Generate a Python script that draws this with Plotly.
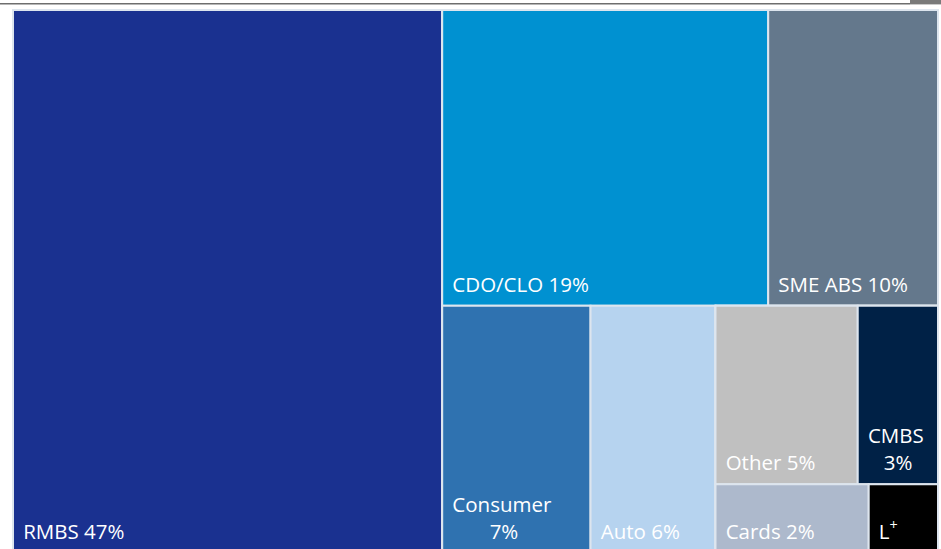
import plotly.graph_objects as go

# Leaf data (tile areas; labels as printed)
sectors = ["RMBS", "CDO/CLO", "SME ABS", "Consumer", "Auto", "Other", "CMBS", "Cards", "L+"]
tile_values = [46.4, 19.2, 10.0, 7.3, 6.15, 5.05, 2.85, 2.1, 0.95]
name_lines = [["RMBS 47%"], ["CDO/CLO 19%"], ["SME ABS 10%"], ["Consumer", "7%"], ["Auto 6%"],
              ["Other 5%"], ["CMBS", "3%"], ["Cards 2%"], ["L<sup>+</sup>"]]
second_line_indent = [0, 0, 0, 7, 0, 0, 3, 0, 0]
colors = ["#1A3190", "#0091D1", "#64788C", "#2F72B0", "#B6D3EF",
          "#C0C0C0", "#002146", "#ADB9CC", "#000000"]

# Layout grouping (mirrors the reference tiling)
parent_of = {
    "All": "",
    "RMBS": "All", "Right": "All",
    "Top": "Right", "Bottom": "Right",
    "CDO/CLO": "Top", "SME ABS": "Top",
    "Consumer": "Bottom", "Auto": "Bottom", "Small": "Bottom",
    "Row1": "Small", "Row2": "Small",
    "Other": "Row1", "CMBS": "Row1",
    "Cards": "Row2", "L+": "Row2",
}
order = ["All", "RMBS", "Right", "Top", "CDO/CLO", "SME ABS", "Bottom", "Consumer", "Auto",
         "Small", "Row1", "Other", "CMBS", "Row2", "Cards", "L+"]

leaf_val = dict(zip(sectors, tile_values))

def total(node):
    if node in leaf_val:
        return leaf_val[node]
    return sum(total(c) for c, p in parent_of.items() if p == node)

BIG = 20.5
NB = "\u00a0"

def make_label(i):
    lines = name_lines[i]
    out = []
    for k, ln in enumerate(lines):
        indent = NB * (1 + (second_line_indent[i] if k > 0 else 0))
        out.append(f"{NB}<span style='font-size:{BIG}px'>{indent}{ln}</span>")
    if len(out) > 1:
        joined = out[0] + "<br>" + NB + "<br>" + NB + "<br>" + out[1]
    else:
        joined = out[0]
    return joined + "<br>" + NB

ids, parents, vals, texts, cols = [], [], [], [], []
for n in order:
    ids.append(n)
    parents.append(parent_of[n])
    vals.append(round(total(n), 4))
    if n in leaf_val:
        i = sectors.index(n)
        texts.append(make_label(i))
        cols.append(colors[i])
    else:
        texts.append(NB)
        cols.append("#FFFFFF")

W, H = 941, 553
ML, MR, MT, MB = 13, 3, 10, 0
pw, ph = W - ML - MR, H - MT - MB

def px_x(x):
    return (x - ML) / pw

def px_y(y):
    return 1 + (MT - y) / ph

fig = go.Figure(go.Treemap(
    ids=ids, labels=ids, parents=parents, values=vals,
    branchvalues="total", sort=False,
    text=texts, texttemplate="%{text}",
    textposition="bottom left",
    textfont=dict(family="Open Sans", size=7, color="white"),
    marker=dict(colors=cols, line=dict(width=2, color="#DDE5EE"),
                pad=dict(t=0, l=0, r=0, b=0)),
    tiling=dict(packing="slice-dice", pad=0),
    pathbar=dict(visible=False),
    hoverinfo="skip",
))

fig.update_layout(
    width=W, height=H,
    margin=dict(l=ML, r=MR, t=MT, b=MB),
    paper_bgcolor="white",
    shapes=[
        dict(type="line", xref="paper", yref="paper", x0=px_x(0), x1=px_x(910),
             y0=px_y(3.7), y1=px_y(3.7), line=dict(color="#6E6E6E", width=1.6)),
        dict(type="rect", xref="paper", yref="paper", x0=px_x(910), x1=px_x(942),
             y0=px_y(4.4), y1=px_y(-1), line=dict(width=0), fillcolor="#7A7A7A"),
    ],
)
fig.write_html("out.html", config={"displayModeBar": False},
               post_script="document.body.style.margin='0';document.body.style.overflow='hidden';")
